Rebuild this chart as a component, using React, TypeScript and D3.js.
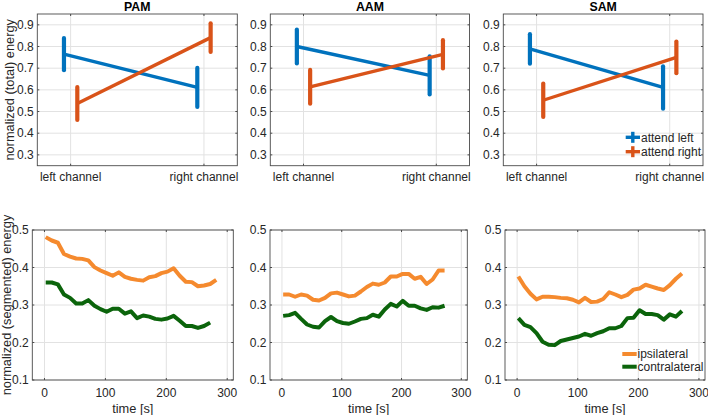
import React from "react";
import * as d3 from "d3";

// ---------- data ----------
const CONDITIONS = ["PAM", "AAM", "SAM"];
const CHANNELS = ["left channel", "right channel"];
const TOP_Y_TICKS = [0.3, 0.4, 0.5, 0.6, 0.7, 0.8, 0.9];
const BOTTOM_Y_TICKS = [0.1, 0.2, 0.3, 0.4, 0.5];
const BOTTOM_X_TICKS = [0, 100, 200, 300];
const TOP_LEGEND = ["attend left", "attend right"];
const BOTTOM_LEGEND = ["ipsilateral", "contralateral"];

// attend left / attend right means and error half-widths per channel
const PAM_ATT_LEFT = [0.765, 0.611];
const PAM_ATT_LEFT_ERR = [0.074, 0.09];
const PAM_ATT_RIGHT = [0.537, 0.841];
const PAM_ATT_RIGHT_ERR = [0.076, 0.066];
const AAM_ATT_LEFT = [0.8, 0.667];
const AAM_ATT_LEFT_ERR = [0.078, 0.088];
const AAM_ATT_RIGHT = [0.614, 0.764];
const AAM_ATT_RIGHT_ERR = [0.078, 0.065];
const SAM_ATT_LEFT = [0.789, 0.611];
const SAM_ATT_LEFT_ERR = [0.068, 0.098];
const SAM_ATT_RIGHT = [0.552, 0.75];
const SAM_ATT_RIGHT_ERR = [0.077, 0.073];

const TIME = [2, 12, 22, 32, 42, 52, 62, 72, 82, 92, 102, 112, 122, 132, 142, 152, 162, 172, 182, 192, 202, 212, 222, 232, 242, 252, 262, 272, 282];

const PAM_IPSI = [0.481, 0.472, 0.466, 0.436, 0.429, 0.424, 0.423, 0.419, 0.401, 0.392, 0.385, 0.378, 0.387, 0.375, 0.37, 0.367, 0.365, 0.374, 0.377, 0.385, 0.389, 0.398, 0.378, 0.362, 0.361, 0.35, 0.352, 0.356, 0.367];
const PAM_CONTRA = [0.36, 0.36, 0.355, 0.328, 0.319, 0.304, 0.304, 0.313, 0.298, 0.289, 0.282, 0.29, 0.29, 0.277, 0.283, 0.265, 0.272, 0.269, 0.263, 0.261, 0.264, 0.271, 0.258, 0.244, 0.244, 0.239, 0.244, 0.253];
const AAM_IPSI = [0.328, 0.328, 0.322, 0.328, 0.325, 0.314, 0.312, 0.319, 0.331, 0.333, 0.328, 0.323, 0.325, 0.336, 0.348, 0.357, 0.354, 0.36, 0.376, 0.376, 0.383, 0.383, 0.37, 0.375, 0.356, 0.368, 0.392, 0.392];
const AAM_CONTRA = [0.271, 0.273, 0.279, 0.263, 0.248, 0.242, 0.24, 0.257, 0.268, 0.257, 0.252, 0.25, 0.256, 0.263, 0.265, 0.274, 0.269, 0.288, 0.303, 0.296, 0.311, 0.298, 0.298, 0.291, 0.287, 0.294, 0.293, 0.298];
const SAM_IPSI = [0.376, 0.35, 0.33, 0.315, 0.322, 0.322, 0.321, 0.319, 0.318, 0.314, 0.307, 0.319, 0.308, 0.309, 0.316, 0.334, 0.328, 0.321, 0.327, 0.341, 0.344, 0.354, 0.349, 0.344, 0.34, 0.353, 0.37, 0.384];
const SAM_CONTRA = [0.265, 0.247, 0.241, 0.225, 0.202, 0.194, 0.193, 0.204, 0.208, 0.212, 0.216, 0.223, 0.218, 0.225, 0.23, 0.238, 0.238, 0.244, 0.265, 0.266, 0.286, 0.276, 0.276, 0.273, 0.261, 0.275, 0.269, 0.284];

// ---------- styling ----------
const BLUE = "#0072BD";
const ORANGE = "#D95319";
const LIGHT_ORANGE = "#F58A2E";
const GREEN = "#0B640B";
const FONT = "'Liberation Sans', Arial, Helvetica, sans-serif";
const TEXT = "#262626";
const GRID = "#e2e2e2";
const AXIS = "#4a4a4a";
const TICK_FS = 12;
const LABEL_FS = 12.8;

const topData = [
  { l: PAM_ATT_LEFT, le: PAM_ATT_LEFT_ERR, r: PAM_ATT_RIGHT, re: PAM_ATT_RIGHT_ERR },
  { l: AAM_ATT_LEFT, le: AAM_ATT_LEFT_ERR, r: AAM_ATT_RIGHT, re: AAM_ATT_RIGHT_ERR },
  { l: SAM_ATT_LEFT, le: SAM_ATT_LEFT_ERR, r: SAM_ATT_RIGHT, re: SAM_ATT_RIGHT_ERR },
];
const bottomData = [
  { ipsi: PAM_IPSI, contra: PAM_CONTRA },
  { ipsi: AAM_IPSI, contra: AAM_CONTRA },
  { ipsi: SAM_IPSI, contra: SAM_CONTRA },
];

const topBoxes = [
  { x0: 37.3, x1: 237.3 },
  { x0: 270.3, x1: 469.5 },
  { x0: 503.3, x1: 703 },
];
const bottomBoxes = [
  { x0: 32.3, x1: 233.3 },
  { x0: 270, x1: 467.3 },
  { x0: 505, x1: 705 },
];
const TOP_Y0 = 14, TOP_Y1 = 165.7;
const BOT_Y0 = 230, BOT_Y1 = 380;

function TopPanel({ idx }: { idx: number }) {
  const b = topBoxes[idx];
  const d = topData[idx];
  const x = d3.scaleLinear().domain([0.75, 2.25]).range([b.x0, b.x1]);
  const y = d3.scaleLinear().domain([0.25, 0.95]).range([TOP_Y1, TOP_Y0]);
  const xs = [1, 2];
  const off = 0.05;
  const line = d3.line<[number, number]>().x((p) => x(p[0])).y((p) => y(p[1]));
  const series = [
    { v: d.l, e: d.le, dx: -off, c: BLUE },
    { v: d.r, e: d.re, dx: off, c: ORANGE },
  ];
  return (
    <g>
      {TOP_Y_TICKS.map((t) => (
        <line key={"gy" + t} x1={b.x0} x2={b.x1} y1={y(t)} y2={y(t)} stroke={GRID} strokeWidth={1} />
      ))}
      {xs.map((t) => (
        <line key={"gx" + t} x1={x(t)} x2={x(t)} y1={TOP_Y0} y2={TOP_Y1} stroke={GRID} strokeWidth={1} />
      ))}
      {series.map((s, si) => (
        <g key={si}>
          <path
            d={line(xs.map((t, i) => [t + s.dx, s.v[i]]) as [number, number][]) || ""}
            stroke={s.c}
            strokeWidth={3.4}
            fill="none"
          />
          {xs.map((t, i) => (
            <line
              key={i}
              x1={x(t + s.dx)}
              x2={x(t + s.dx)}
              y1={y(s.v[i] - s.e[i])}
              y2={y(s.v[i] + s.e[i])}
              stroke={s.c}
              strokeWidth={4.2}
              strokeLinecap="round"
            />
          ))}
        </g>
      ))}
      <rect x={b.x0} y={TOP_Y0} width={b.x1 - b.x0} height={TOP_Y1 - TOP_Y0} fill="none" stroke={AXIS} strokeWidth={0.9} />
      {TOP_Y_TICKS.map((t) => (
        <g key={"ty" + t}>
          <line x1={b.x0} x2={b.x0 + 2} y1={y(t)} y2={y(t)} stroke={AXIS} />
          <line x1={b.x1} x2={b.x1 - 2} y1={y(t)} y2={y(t)} stroke={AXIS} />
          <text x={b.x0 - 3.5} y={y(t)} dy="0.35em" textAnchor="end" fontSize={TICK_FS} fill={TEXT} fontFamily={FONT}>
            {t.toFixed(1)}
          </text>
        </g>
      ))}
      {xs.map((t, i) => (
        <g key={"tx" + t}>
          <line x1={x(t)} x2={x(t)} y1={TOP_Y1} y2={TOP_Y1 - 2} stroke={AXIS} />
          <line x1={x(t)} x2={x(t)} y1={TOP_Y0} y2={TOP_Y0 + 2} stroke={AXIS} />
          <text x={x(t)} y={TOP_Y1 + 11} dy="0.35em" textAnchor="middle" fontSize={TICK_FS} fill={TEXT} fontFamily={FONT}>
            {CHANNELS[i]}
          </text>
        </g>
      ))}
      <text x={(b.x0 + b.x1) / 2} y={11.2} textAnchor="middle" fontSize={12.3} fontWeight="bold" fill="#000" fontFamily={FONT}>
        {CONDITIONS[idx]}
      </text>
    </g>
  );
}

function BottomPanel({ idx }: { idx: number }) {
  const b = bottomBoxes[idx];
  const d = bottomData[idx];
  const x = d3.scaleLinear().domain([-20, 310]).range([b.x0, b.x1]);
  const y = d3.scaleLinear().domain([0.1, 0.5]).range([BOT_Y1, BOT_Y0]);
  const line = d3.line<number>().x((_, i) => x(TIME[i])).y((v) => y(v));
  return (
    <g>
      {BOTTOM_Y_TICKS.map((t) => (
        <line key={"gy" + t} x1={b.x0} x2={b.x1} y1={y(t)} y2={y(t)} stroke={GRID} strokeWidth={1} />
      ))}
      {BOTTOM_X_TICKS.map((t) => (
        <line key={"gx" + t} x1={x(t)} x2={x(t)} y1={BOT_Y0} y2={BOT_Y1} stroke={GRID} strokeWidth={1} />
      ))}
      <path d={line(d.ipsi) || ""} stroke={LIGHT_ORANGE} strokeWidth={4} fill="none" strokeLinejoin="round" />
      <path d={line(d.contra) || ""} stroke={GREEN} strokeWidth={4} fill="none" strokeLinejoin="round" />
      <rect x={b.x0} y={BOT_Y0} width={b.x1 - b.x0} height={BOT_Y1 - BOT_Y0} fill="none" stroke={AXIS} strokeWidth={0.9} />
      {BOTTOM_Y_TICKS.map((t) => (
        <g key={"ty" + t}>
          <line x1={b.x0} x2={b.x0 + 2} y1={y(t)} y2={y(t)} stroke={AXIS} />
          <line x1={b.x1} x2={b.x1 - 2} y1={y(t)} y2={y(t)} stroke={AXIS} />
          <text x={b.x0 - 3.5} y={y(t)} dy="0.35em" textAnchor="end" fontSize={TICK_FS} fill={TEXT} fontFamily={FONT}>
            {t.toFixed(1)}
          </text>
        </g>
      ))}
      {BOTTOM_X_TICKS.map((t) => (
        <g key={"tx" + t}>
          <line x1={x(t)} x2={x(t)} y1={BOT_Y1} y2={BOT_Y1 - 2} stroke={AXIS} />
          <line x1={x(t)} x2={x(t)} y1={BOT_Y0} y2={BOT_Y0 + 2} stroke={AXIS} />
          <text x={x(t)} y={BOT_Y1 + 12.5} dy="0.35em" textAnchor="middle" fontSize={TICK_FS} fill={TEXT} fontFamily={FONT}>
            {t}
          </text>
        </g>
      ))}
      <text x={(b.x0 + b.x1) / 2} y={BOT_Y1 + 28.5} dy="0.35em" textAnchor="middle" fontSize={LABEL_FS} fill={TEXT} fontFamily={FONT}>
        time [s]
      </text>
    </g>
  );
}

export default function App() {
  return (
    <svg
      width={708}
      height={415}
      style={{ position: "absolute", left: 0, top: 0, background: "#fff" }}
      xmlns="http://www.w3.org/2000/svg"
    >
      <rect width={708} height={415} fill="#fff" />
      {[0, 1, 2].map((i) => (
        <TopPanel key={"t" + i} idx={i} />
      ))}
      {[0, 1, 2].map((i) => (
        <BottomPanel key={"b" + i} idx={i} />
      ))}
      <text
        transform={`translate(10, ${(TOP_Y0 + TOP_Y1) / 2}) rotate(-90)`}
        dy="0.35em"
        textAnchor="middle"
        fontSize={LABEL_FS}
        fill={TEXT}
        fontFamily={FONT}
      >
        normalized (total) energy
      </text>
      <text
        transform={`translate(7, ${(BOT_Y0 + BOT_Y1) / 2}) rotate(-90)`}
        dy="0.35em"
        textAnchor="middle"
        fontSize={LABEL_FS}
        fill={TEXT}
        fontFamily={FONT}
      >
        normalized (segmented) energy
      </text>
      {/* top legend */}
      {TOP_LEGEND.map((name, i) => {
        const yy = 137.3 + i * 14.4;
        const c = i === 0 ? BLUE : ORANGE;
        return (
          <g key={name}>
            <line x1={625.7} x2={640} y1={yy} y2={yy} stroke={c} strokeWidth={3.4} />
            <line x1={632.8} x2={632.8} y1={yy - 5.5} y2={yy + 5.5} stroke={c} strokeWidth={3.4} />
            <text x={641} y={yy} dy="0.35em" fontSize={TICK_FS} fill={TEXT} fontFamily={FONT}>
              {name}
            </text>
          </g>
        );
      })}
      {/* bottom legend */}
      {BOTTOM_LEGEND.map((name, i) => {
        const yy = 354 + i * 12.7;
        const c = i === 0 ? LIGHT_ORANGE : GREEN;
        return (
          <g key={name}>
            <line x1={622.3} x2={636.7} y1={yy} y2={yy} stroke={c} strokeWidth={4} />
            <text x={637.5} y={yy} dy="0.35em" fontSize={TICK_FS} fill={TEXT} fontFamily={FONT}>
              {name}
            </text>
          </g>
        );
      })}
    </svg>
  );
}
